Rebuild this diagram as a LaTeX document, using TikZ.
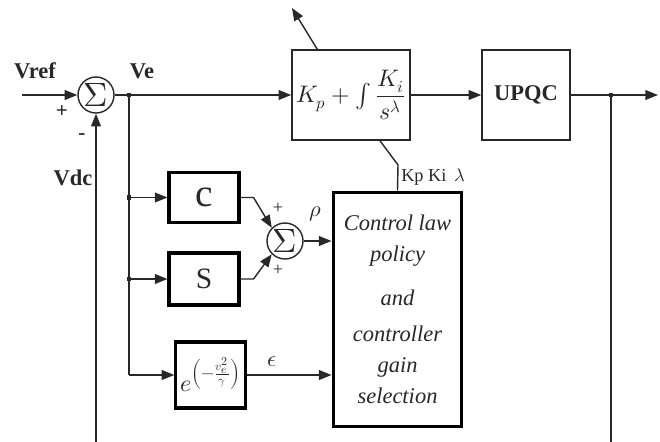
\documentclass[tikz,border=0pt]{standalone}
\usepackage{amsmath, amssymb}
\usepackage{fontspec}
\usepackage{unicode-math}
\setmainfont{Liberation Serif}
\setmathfont{Latin Modern Math}
\usetikzlibrary{arrows.meta, positioning, calc}
\definecolor{LineGray}{RGB}{40, 40, 40}

\begin{document}
\begin{tikzpicture}[x=0.025cm, y=-0.025cm,
  every node/.style={font=\fontsize{16}{20}\selectfont, align=center, text=LineGray},
  sig/.style={draw=LineGray, line width=1pt, -{Triangle[length=9pt, width=7pt]}},
  wire/.style={draw=LineGray, line width=1pt},
  thinbox/.style={draw=LineGray, line width=1.1pt, inner sep=0pt},
  thickbox/.style={draw=black, line width=2.2pt, inner sep=0pt},
  sumnode/.style={circle, draw=LineGray, line width=1pt, minimum size=0.9cm, inner sep=0pt,
    font=\fontsize{24}{24}\selectfont},
  dot/.style={fill=LineGray, minimum size=3.5pt, inner sep=0pt}]
\useasboundingbox (0,0) rectangle (660,442);

% blocks
\node[sumnode] (sum1) at (96,95) {$\Sigma$};
\node[thinbox, minimum width=2.95cm, minimum height=2.25cm, font=\fontsize{17}{20}\selectfont] (pi) at (351,95)
  {$K_p+\int\dfrac{K_i}{s^{\lambda}}$};
\node[thinbox, minimum width=2.2cm, minimum height=2.25cm, font=\fontsize{16}{20}\selectfont\bfseries] (upqc) at (526,95) {UPQC};
\node[thickbox, minimum width=1.75cm, minimum height=1.27cm, font=\fontsize{28}{30}\selectfont] (cblk) at (204,197.5) {c};
\node[thickbox, minimum width=1.75cm, minimum height=1.3cm, font=\fontsize{21}{24}\selectfont] (sblk) at (204,279) {S};
\node[thickbox, minimum width=1.62cm, minimum height=1.65cm, inner xsep=3pt, font=\fontsize{17}{20}\selectfont] (expblk) at (210.5,375)
  {$e^{\left(-\frac{v_e^2}{\gamma}\right)}$};
\node[sumnode] (sum2) at (285,241) {$\Sigma$};
\node[thickbox, minimum width=3.22cm, minimum height=5.87cm, font=\fontsize{16}{22}\selectfont\itshape] (ctrl) at (397.5,309.5)
  {Control law\\ policy\\[9pt] and\\[4pt] controller\\ gain\\ selection};

% junctions
\coordinate (vin) at (22,95);
\coordinate (vdcin) at (96,442);
\coordinate (je) at (129,95);
\coordinate (jc) at (129,197.5);
\coordinate (js) at (129,279);
\coordinate (jx) at (129,375);
\coordinate (jo) at (611,95);
\coordinate (vout) at (658,95);
\coordinate (vfb) at (611,442);
\coordinate (tune) at ($(pi.north west)+(26,0)$);
\coordinate (tunetip) at (292,8);
\coordinate (kbend) at (398,165);
\coordinate (kfoot) at ($(pi.south)+(29,0)$);

% connectors
\draw[sig] (vin) -- (sum1.west);
\draw[sig] (vdcin) -- (sum1.south);
\draw[sig] (sum1.east) -- (pi.west);
\draw[wire] (je) -- (jx);
\draw[sig] (jc) -- (cblk.west);
\draw[sig] (js) -- (sblk.west);
\draw[sig] (jx) -- (expblk.west);
\draw[sig] (cblk.east) -- ++(13,0) -- (sum2.north west);
\draw[sig] (sblk.east) -- ++(13,0) -- (sum2.south west);
\draw[sig] (sum2.east) -- (sum2 -| ctrl.west);
\draw[sig] (expblk.east) -- (expblk -| ctrl.west);
\draw[sig] (pi.east) -- (upqc.west);
\draw[sig] (upqc.east) -- (vout);
\draw[wire] (jo) -- (vfb);
\draw[sig] (tune) -- (tunetip);
\draw[wire] (ctrl.north) -- (kbend) -- (kfoot);
\node[dot] at (je) {};
\node[dot] at (jc) {};
\node[dot] at (js) {};
\node[dot] at (jo) {};

% labels
\node[font=\fontsize{16}{20}\selectfont\bfseries] (lvref) at (35,71) {Vref};
\node[font=\fontsize{16}{20}\selectfont\bfseries] (lve) at (142,71) {Ve};
\node[font=\fontsize{16}{20}\selectfont\bfseries] (lvdc) at (73,178) {Vdc};
\node[font=\fontsize{15}{18}\selectfont\bfseries] (lplus) at (62,112) {+};
\node[font=\fontsize{15}{18}\selectfont\bfseries] (lminus) at (82,137) {-};
\node[font=\fontsize{13}{16}\selectfont] (lplc) at (278,208) {+};
\node[font=\fontsize{13}{16}\selectfont] (lpls) at (278,270) {+};
\node (lrho) at (315,214) {$\rho$};
\node (leps) at (272,362) {$\epsilon$};
\node[font=\fontsize{13}{16}\selectfont] (lgain) at (433,177) {Kp Ki\, $\lambda$};
\end{tikzpicture}
\end{document}
